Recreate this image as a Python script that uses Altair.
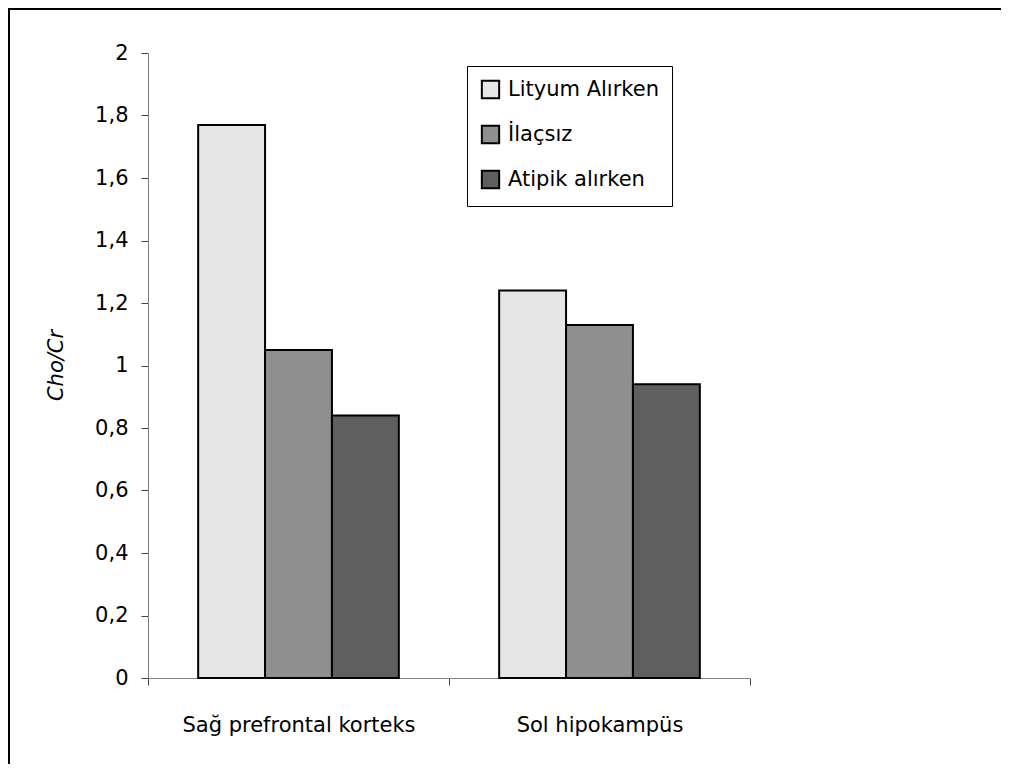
import altair as alt
import pandas as pd

REGIONS = ["Sağ prefrontal korteks", "Sol hipokampüs"]
SERIES = ["Lityum Alırken", "İlaçsız", "Atipik alırken"]
LITYUM = [1.77, 1.24]
ILACSIZ = [1.05, 1.13]
ATIPIK = [0.84, 0.94]
COLORS = ["#e6e6e6", "#8f8f8f", "#5f5f5f"]
Y_TICKS = [0, 0.2, 0.4, 0.6, 0.8, 1.0, 1.2, 1.4, 1.6, 1.8, 2.0]

rows = []
for s, vals in zip(SERIES, [LITYUM, ILACSIZ, ATIPIK]):
    for r, v in zip(REGIONS, vals):
        rows.append({"region": r, "series": s, "value": v})
df = pd.DataFrame(rows)

FONT = "DejaVu Sans"
W, H = 995, 756

bars = alt.Chart(df).mark_bar(stroke="black", strokeWidth=2).encode(
    x=alt.X(
        "region:N",
        sort=REGIONS,
        scale=alt.Scale(range=[140, 742], paddingInner=0, paddingOuter=0),
        axis=alt.Axis(
            title=None,
            labelAngle=0,
            labelLimit=0,
            tickBand="extent",
            offset=-86,
            tickSize=7,
            labelPadding=29,
            domainColor="#808080",
            tickColor="#404040",
            labelFont=FONT,
            labelFontSize=21,
            labelColor="black",
        ),
    ),
    xOffset=alt.XOffset(
        "series:N",
        sort=SERIES,
        scale=alt.Scale(paddingInner=0, paddingOuter=0.75),
    ),
    y=alt.Y(
        "value:Q",
        scale=alt.Scale(domain=[0, 2], range=[670, 45], nice=False),
        axis=alt.Axis(
            title="Cho/Cr",
            values=Y_TICKS,
            labelExpr="replace(format(datum.value, '.1~f'), '.', ',')",
            offset=-140,
            tickSize=7,
            labelPadding=13,
            grid=False,
            domainColor="#808080",
            tickColor="#404040",
            labelFont=FONT,
            labelFontSize=21,
            labelColor="black",
            titleFont=FONT,
            titleFontSize=21,
            titleFontStyle="italic",
            titleFontWeight="normal",
            titleColor="black",
            titleAngle=-90,
            titleX=-86,
            titleY=357,
            titleAlign="center",
            titleBaseline="alphabetic",
        ),
    ),
    color=alt.Color(
        "series:N",
        sort=SERIES,
        scale=alt.Scale(domain=SERIES, range=COLORS),
        legend=alt.Legend(
            title=None,
            orient="none",
            legendX=459,
            legendY=58,
            padding=13,
            strokeColor="black",
            fillColor="white",
            symbolType="square",
            symbolSize=300,
            symbolStrokeColor="black",
            symbolStrokeWidth=2,
            symbolOpacity=1,
            labelFont=FONT,
            labelFontSize=21,
            labelColor="black",
            labelOffset=7,
            rowPadding=18,
        ),
    ),
)

frame_data = alt.Data(values=[{"k": 0}])
top_line = alt.Chart(frame_data).mark_rect(color="black").encode(
    x=alt.value(0), x2=alt.value(W - 2), y=alt.value(0), y2=alt.value(2)
)
left_line = alt.Chart(frame_data).mark_rect(color="black").encode(
    x=alt.value(0), x2=alt.value(2), y=alt.value(0), y2=alt.value(H)
)

chart = (
    alt.layer(bars, top_line, left_line)
    .properties(width=W, height=H, autosize=alt.AutoSizeParams(type="none"), padding=0, background="white")
    .configure_view(stroke="white", strokeWidth=1)
)

chart.save("out.html", embed_options={"renderer": "svg", "actions": False})
